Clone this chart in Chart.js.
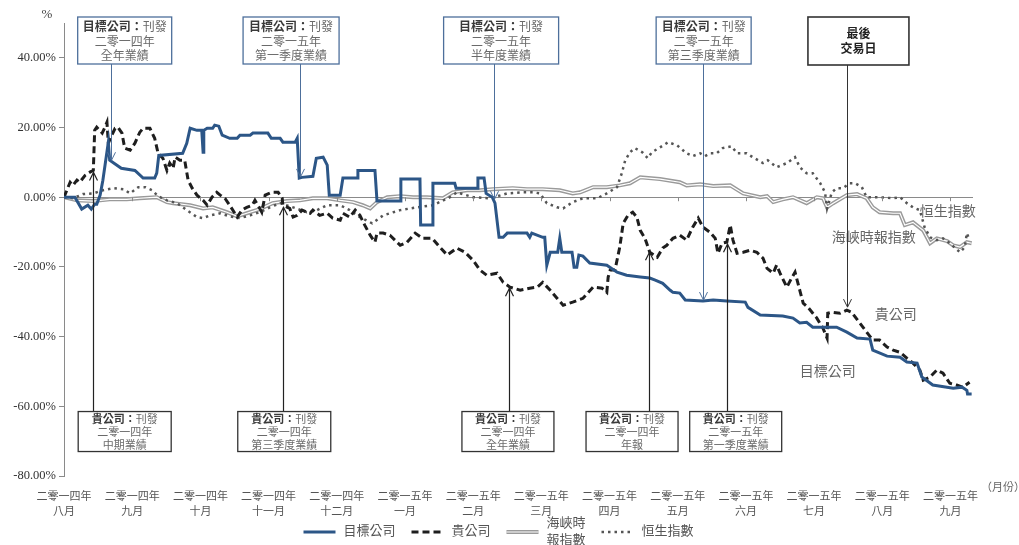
<!DOCTYPE html>
<html>
<head>
<meta charset="utf-8">
<script src="https://cdn.jsdelivr.net/npm/chart.js@4.4.1/dist/chart.umd.min.js"></script>
<style>
  body { margin: 0; background: #fff; }
  #wrap { width: 1019px; height: 545px; }
</style>
</head>
<body>
<div id="wrap"><canvas id="chart" width="1019" height="545"></canvas></div>
<script>
// x = months since Aug 2014, y = % change
const monthLabels = [
  ['二零一四年', '八月'], ['二零一四年', '九月'], ['二零一四年', '十月'], ['二零一四年', '十一月'],
  ['二零一四年', '十二月'], ['二零一五年', '一月'], ['二零一五年', '二月'], ['二零一五年', '三月'],
  ['二零一五年', '四月'], ['二零一五年', '五月'], ['二零一五年', '六月'], ['二零一五年', '七月'],
  ['二零一五年', '八月'], ['二零一五年', '九月']
];

const targetCo = [[0,0],[0.16,0],[0.26,-3.4],[0.35,-2.3],[0.40,-3.4],[0.45,-2.0],[0.48,-2.0],[0.53,0.6],[0.57,4.9],[0.65,15.8],[0.67,10.6],[0.84,8.3],[1.04,7.7],[1.16,5.5],[1.33,5.5],[1.36,6.9],[1.39,12.0],[1.74,12.6],[1.80,15.5],[1.85,19.8],[1.95,19.2],[2.02,19.2],[2.04,12.9],[2.05,19.2],[2.10,19.8],[2.18,19.8],[2.21,20.7],[2.27,20.4],[2.32,17.8],[2.43,16.9],[2.54,16.9],[2.58,17.8],[2.73,17.8],[2.77,18.4],[2.99,18.4],[3.04,16.9],[3.17,16.9],[3.21,15.8],[3.39,15.8],[3.42,16.9],[3.45,5.5],[3.49,5.7],[3.65,6.0],[3.70,11.2],[3.80,11.5],[3.86,9.2],[3.89,0.6],[4.05,0.6],[4.09,5.5],[4.30,5.5],[4.31,7.7],[4.56,7.7],[4.59,-1.1],[4.93,-1.1],[4.94,5.2],[5.22,5.2],[5.23,-8.0],[5.40,-8.0],[5.41,4.0],[5.73,4.0],[5.75,2.6],[6.06,2.6],[6.07,5.5],[6.16,5.5],[6.19,1.1],[6.28,0],[6.32,-1.7],[6.38,-11.5],[6.44,-11.5],[6.50,-10.3],[6.79,-10.3],[6.83,-11.5],[6.86,-10.3],[7.02,-11.5],[7.05,-11.5],[7.08,-19.5],[7.13,-15.8],[7.24,-15.8],[7.27,-11.8],[7.30,-15.8],[7.45,-15.8],[7.48,-20.1],[7.52,-20.1],[7.55,-16.6],[7.61,-16.9],[7.71,-18.9],[7.96,-19.5],[8.11,-21.5],[8.25,-22.4],[8.45,-22.9],[8.59,-23.2],[8.67,-23.8],[8.78,-24.7],[8.89,-26.7],[8.93,-27.3],[9.03,-27.5],[9.11,-29.5],[9.37,-29.8],[9.52,-29.5],[9.72,-29.8],[9.99,-30.1],[10.03,-31.6],[10.21,-33.8],[10.54,-34.1],[10.69,-34.7],[10.79,-36.1],[10.89,-35.9],[10.98,-37.3],[11.33,-37.3],[11.48,-38.7],[11.63,-40.4],[11.82,-40.7],[11.86,-43.9],[12.07,-45.6],[12.26,-45.9],[12.36,-47.3],[12.51,-47.6],[12.58,-51.6],[12.74,-53.9],[13.04,-54.8],[13.17,-54.5],[13.24,-55.4],[13.25,-56.5],[13.31,-56.5]];

const yourCo = [[0,0],[0.09,4.3],[0.13,3.4],[0.19,4.9],[0.23,4.3],[0.31,6.3],[0.38,7.2],[0.43,7.7],[0.45,19.2],[0.48,20.1],[0.56,18.4],[0.60,20.1],[0.63,21.5],[0.65,15.5],[0.70,17.8],[0.75,19.8],[0.79,20.1],[0.85,18.4],[0.89,14.1],[0.97,13.5],[1.04,15.5],[1.11,18.6],[1.16,19.8],[1.26,19.8],[1.33,16.9],[1.38,12.6],[1.45,11.2],[1.51,7.7],[1.55,9.8],[1.60,8.3],[1.63,11.5],[1.70,10.6],[1.77,10.6],[1.82,4.9],[1.88,2.6],[1.95,0.6],[2.04,-0.9],[2.10,-2.3],[2.17,0],[2.24,1.4],[2.29,0.6],[2.36,-0.3],[2.43,-2.3],[2.54,-5.7],[2.61,-3.7],[2.68,-2.9],[2.76,-2.3],[2.80,-0.9],[2.87,-3.2],[2.90,-4.3],[2.95,0.6],[3.05,1.4],[3.14,1.4],[3.20,-0.3],[3.21,-2.3],[3.31,-3.2],[3.36,-5.7],[3.42,-5.2],[3.49,-3.7],[3.56,-4.3],[3.61,-4.6],[3.65,-3.7],[3.75,-5.2],[3.86,-4.6],[3.94,-6.0],[4.05,-6.6],[4.09,-4.6],[4.19,-5.7],[4.27,-3.7],[4.34,-5.2],[4.41,-8.0],[4.49,-10.9],[4.56,-12.9],[4.59,-10.3],[4.68,-10.3],[4.78,-10.9],[4.93,-13.8],[5.03,-12.9],[5.15,-10.3],[5.26,-11.8],[5.40,-11.8],[5.51,-14.3],[5.62,-16.6],[5.76,-14.6],[5.88,-15.8],[6.00,-18.1],[6.10,-20.9],[6.20,-22.4],[6.35,-21.8],[6.44,-24.4],[6.54,-25.8],[6.69,-26.7],[6.83,-26.1],[6.94,-25.8],[7.02,-24.4],[7.13,-26.7],[7.23,-29.0],[7.32,-31.0],[7.46,-30.1],[7.61,-29.0],[7.76,-25.8],[7.89,-26.1],[7.96,-27.3],[7.98,-22.9],[8.01,-20.9],[8.08,-20.9],[8.15,-14.3],[8.20,-7.5],[8.27,-5.2],[8.34,-4.3],[8.40,-5.7],[8.45,-9.5],[8.52,-11.8],[8.59,-15.8],[8.70,-17.2],[8.78,-14.6],[8.84,-13.8],[8.93,-11.8],[9.03,-10.9],[9.13,-12.3],[9.22,-8.6],[9.30,-6.0],[9.37,-8.6],[9.47,-10.0],[9.55,-11.8],[9.59,-16.1],[9.65,-13.2],[9.72,-12.9],[9.77,-8.0],[9.81,-12.3],[9.87,-16.1],[9.96,-15.8],[10.06,-15.2],[10.16,-15.8],[10.25,-17.5],[10.31,-20.4],[10.40,-21.8],[10.45,-19.5],[10.50,-21.8],[10.60,-25.8],[10.67,-23.2],[10.72,-21.5],[10.79,-26.7],[10.84,-30.4],[10.91,-31.6],[11.04,-34.7],[11.13,-37.6],[11.19,-40.4],[11.20,-33.3],[11.26,-33.0],[11.38,-33.3],[11.48,-32.4],[11.55,-33.0],[11.67,-36.1],[11.77,-38.7],[11.86,-41.0],[11.96,-41.0],[12.07,-43.0],[12.16,-43.9],[12.26,-44.5],[12.36,-46.2],[12.45,-47.6],[12.55,-49.6],[12.60,-52.5],[12.70,-51.6],[12.80,-49.6],[12.89,-50.5],[12.99,-53.4],[13.09,-53.9],[13.18,-54.5],[13.28,-53.1]];

const straitsTimes = [[0,0],[0.19,-0.9],[0.43,-1.1],[0.67,-0.6],[0.92,-0.6],[1.11,-0.3],[1.36,0],[1.51,-1.4],[1.60,-1.7],[1.85,-2.3],[2.04,-3.2],[2.18,-2.9],[2.39,-4.3],[2.54,-5.5],[2.68,-4.6],[2.87,-3.4],[3.06,-1.7],[3.27,-1.1],[3.46,-0.9],[3.65,-0.3],[3.86,-0.3],[4.05,-0.9],[4.24,-1.4],[4.38,-2.3],[4.49,-3.2],[4.59,-1.4],[4.74,0],[4.93,0.3],[5.12,0],[5.32,0],[5.56,-0.3],[5.70,1.4],[5.91,2.0],[6.10,2.0],[6.29,2.3],[6.58,2.6],[6.79,2.3],[7.02,2.3],[7.27,2.0],[7.46,1.1],[7.57,1.4],[7.76,2.9],[7.96,2.9],[8.15,3.4],[8.30,4.0],[8.45,5.7],[8.74,5.2],[9.03,4.3],[9.13,3.4],[9.33,3.7],[9.52,3.2],[9.77,3.4],[9.96,1.1],[10.21,0],[10.31,0.3],[10.40,-1.4],[10.54,-0.6],[10.69,0],[10.89,-1.7],[11.04,0],[11.13,-0.3],[11.19,-2.9],[11.28,-1.7],[11.48,0.6],[11.63,0.9],[11.77,-0.3],[11.86,-2.9],[11.96,-4.3],[12.16,-4.6],[12.26,-4.6],[12.33,-8.0],[12.45,-7.2],[12.60,-9.5],[12.70,-13.2],[12.80,-11.8],[12.95,-12.6],[13.04,-13.8],[13.14,-14.3],[13.24,-12.9],[13.31,-13.2]];

const hangSeng = [[0,0],[0.13,-0.3],[0.28,0.9],[0.43,1.1],[0.57,2.0],[0.72,2.6],[0.87,2.3],[0.97,1.1],[1.09,2.9],[1.19,2.9],[1.29,2.0],[1.38,0.3],[1.51,-0.9],[1.66,-1.7],[1.80,-3.7],[1.95,-5.7],[2.04,-6.0],[2.14,-5.2],[2.29,-4.6],[2.43,-5.5],[2.58,-6.0],[2.73,-5.2],[2.87,-4.3],[3.02,-2.9],[3.17,-1.7],[3.36,-2.9],[3.56,-4.3],[3.71,-3.7],[3.86,-2.3],[4.05,-2.3],[4.19,-3.7],[4.34,-5.7],[4.52,-7.5],[4.68,-5.2],[4.93,-3.7],[5.18,-2.9],[5.41,-2.3],[5.66,0],[5.76,1.4],[6.00,0],[6.25,-0.3],[6.50,1.1],[6.73,1.4],[6.88,1.4],[6.98,1.1],[7.08,-1.7],[7.23,-2.9],[7.32,-3.2],[7.46,-1.4],[7.61,-0.3],[7.82,-0.3],[7.96,1.1],[8.11,2.9],[8.18,6.9],[8.23,10.6],[8.30,12.9],[8.37,14.1],[8.48,12.9],[8.56,11.2],[8.62,12.9],[8.74,14.3],[8.86,15.8],[8.99,14.9],[9.13,12.6],[9.22,11.8],[9.33,12.6],[9.40,11.8],[9.47,12.6],[9.57,12.6],[9.66,14.1],[9.79,14.6],[9.87,12.6],[10.01,12.6],[10.10,11.5],[10.25,9.8],[10.32,10.6],[10.45,8.6],[10.60,9.8],[10.72,11.5],[10.79,8.6],[10.89,6.9],[10.98,6.9],[11.09,4.0],[11.16,1.4],[11.19,-3.2],[11.26,1.4],[11.33,2.6],[11.42,2.6],[11.52,4.0],[11.60,4.0],[11.70,2.9],[11.77,0],[11.96,0],[12.16,-0.3],[12.26,0],[12.36,-1.7],[12.45,-2.9],[12.55,-3.7],[12.62,-8.6],[12.70,-11.5],[12.80,-12.3],[12.89,-11.8],[12.99,-13.2],[13.14,-15.8],[13.21,-14.3],[13.24,-10.3],[13.28,-12.3]];

const seriesNames = ['目標公司', '貴公司', ['海峽時', '報指數'], '恒生指數'];

// event notes: box centre (month), arrow x (month), which series the arrow points at
const topNotes = [
  { head: '目標公司：', rest: '刊發', sub: ['二零一四年', '全年業績'], boxAt: 0.89, boxW: 94, arrowAt: 0.69, series: targetCo },
  { head: '目標公司：', rest: '刊發', sub: ['二零一五年', '第一季度業績'], boxAt: 3.33, boxW: 96, arrowAt: 3.46, series: targetCo },
  { head: '目標公司：', rest: '刊發', sub: ['二零一五年', '半年度業績'], boxAt: 6.41, boxW: 115, arrowAt: 6.30, series: targetCo },
  { head: '目標公司：', rest: '刊發', sub: ['二零一五年', '第三季度業績'], boxAt: 9.38, boxW: 95, arrowAt: 9.37, series: targetCo }
];
const lastDayNote = { lines: ['最後', '交易日'], boxAt: 11.65, boxW: 101, arrowAt: 11.48, series: yourCo };
const bottomNotes = [
  { head: '貴公司：', rest: '刊發', sub: ['二零一四年', '中期業績'], boxAt: 0.89, boxW: 93, arrowAt: 0.43, series: yourCo },
  { head: '貴公司：', rest: '刊發', sub: ['二零一四年', '第三季度業績'], boxAt: 3.23, boxW: 93, arrowAt: 3.21, series: yourCo },
  { head: '貴公司：', rest: '刊發', sub: ['二零一四年', '全年業績'], boxAt: 6.51, boxW: 92, arrowAt: 6.52, series: yourCo },
  { head: '貴公司：', rest: '刊發', sub: ['二零一四年', '年報'], boxAt: 8.33, boxW: 92, arrowAt: 8.58, series: yourCo },
  { head: '貴公司：', rest: '刊發', sub: ['二零一五年', '第一季度業績'], boxAt: 9.85, boxW: 92, arrowAt: 9.72, series: yourCo }
];
const lineTags = [
  { text: '恒生指數', x: 12.55, y: -4.3 },
  { text: '海峽時報指數', x: 11.26, y: -11.8 },
  { text: '貴公司', x: 11.89, y: -33.8 },
  { text: '目標公司', x: 10.79, y: -50.2 }
];

const FONT = "'Liberation Serif', 'Times New Roman', 'Noto Sans CJK TC', serif";
const BLUE = '#2C5687';

function toXY(pts) { return pts.map(p => ({ x: p[0], y: p[1] })); }

function valueAt(pts, x) {
  for (let i = 1; i < pts.length; i++) {
    if (pts[i][0] >= x) {
      const a = pts[i - 1], b = pts[i];
      return a[1] + (b[1] - a[1]) * (x - a[0]) / ((b[0] - a[0]) || 1);
    }
  }
  return pts[pts.length - 1][1];
}

function arrowHead(ctx, x, y, dir) {
  // dir = 1 pointing down, -1 pointing up
  ctx.beginPath();
  ctx.moveTo(x - 4, y - dir * 8);
  ctx.lineTo(x, y);
  ctx.lineTo(x + 4, y - dir * 8);
  ctx.stroke();
}

function drawHeadLine(ctx, cx, y, head, rest, size) {
  ctx.font = 'bold ' + size + 'px ' + FONT;
  const w1 = ctx.measureText(head).width;
  ctx.font = size + 'px ' + FONT;
  const w2 = ctx.measureText(rest).width;
  let x = cx - (w1 + w2) / 2;
  ctx.textAlign = 'left';
  ctx.font = 'bold ' + size + 'px ' + FONT;
  ctx.fillStyle = '#3a3a3a';
  ctx.fillText(head, x, y);
  ctx.font = size + 'px ' + FONT;
  ctx.fillStyle = '#6a6a6a';
  ctx.fillText(rest, x + w1, y);
}

const notesPlugin = {
  id: 'notes',
  afterDatasetsDraw(chart) {
    const ctx = chart.ctx, xs = chart.scales.x, ys = chart.scales.y, area = chart.chartArea;
    ctx.save();
    ctx.textBaseline = 'middle';

    // small tick marks on the zero line
    const y0 = ys.getPixelForValue(0);
    ctx.strokeStyle = '#8a8a8a';
    ctx.lineWidth = 1;
    for (let i = 1; i < monthLabels.length; i++) {
      const px = Math.round(xs.getPixelForValue(i)) + 0.5;
      ctx.beginPath(); ctx.moveTo(px, y0); ctx.lineTo(px, y0 + 4); ctx.stroke();
    }

    // line tags
    ctx.font = '14px ' + FONT;
    ctx.fillStyle = '#666';
    ctx.textAlign = 'left';
    lineTags.forEach(t => ctx.fillText(t.text, xs.getPixelForValue(t.x), ys.getPixelForValue(t.y)));

    // top notes
    const topY = area.top - 6, topH = 47;
    topNotes.forEach(n => {
      const cx = xs.getPixelForValue(n.boxAt), ax = Math.round(xs.getPixelForValue(n.arrowAt)) + 0.5;
      const tip = ys.getPixelForValue(valueAt(n.series, n.arrowAt)) - 1;
      ctx.strokeStyle = '#4D6F9B';
      ctx.lineWidth = 1;
      ctx.beginPath(); ctx.moveTo(ax, topY + topH); ctx.lineTo(ax, tip); ctx.stroke();
      arrowHead(ctx, ax, tip, 1);
      ctx.fillStyle = '#fff';
      ctx.fillRect(cx - n.boxW / 2, topY, n.boxW, topH);
      ctx.lineWidth = 1.3;
      ctx.strokeRect(cx - n.boxW / 2, topY, n.boxW, topH);
      drawHeadLine(ctx, cx, topY + 11, n.head, n.rest, 12);
      ctx.font = '12px ' + FONT;
      ctx.fillStyle = '#6a6a6a';
      ctx.textAlign = 'center';
      ctx.fillText(n.sub[0], cx, topY + 26);
      ctx.fillText(n.sub[1], cx, topY + 40);
    });

    // last trading day
    {
      const n = lastDayNote;
      const cx = xs.getPixelForValue(n.boxAt), ax = Math.round(xs.getPixelForValue(n.arrowAt)) + 0.5;
      const tip = ys.getPixelForValue(valueAt(n.series, n.arrowAt)) - 3;
      ctx.strokeStyle = '#333';
      ctx.lineWidth = 1;
      ctx.beginPath(); ctx.moveTo(ax, topY + 48); ctx.lineTo(ax, tip); ctx.stroke();
      arrowHead(ctx, ax, tip, 1);
      ctx.fillStyle = '#fff';
      ctx.fillRect(cx - n.boxW / 2, topY, n.boxW, 48);
      ctx.lineWidth = 1.6;
      ctx.strokeRect(cx - n.boxW / 2, topY, n.boxW, 48);
      ctx.font = 'bold 12px ' + FONT;
      ctx.fillStyle = '#222';
      ctx.textAlign = 'center';
      ctx.fillText(n.lines[0], cx, topY + 18);
      ctx.fillText(n.lines[1], cx, topY + 33);
    }

    // bottom notes
    const botY = ys.getPixelForValue(-61.5), botH = 40;
    bottomNotes.forEach(n => {
      const cx = xs.getPixelForValue(n.boxAt), ax = Math.round(xs.getPixelForValue(n.arrowAt)) + 0.5;
      const tip = ys.getPixelForValue(valueAt(n.series, n.arrowAt)) + 2;
      ctx.strokeStyle = '#222';
      ctx.lineWidth = 1.2;
      ctx.beginPath(); ctx.moveTo(ax, botY); ctx.lineTo(ax, tip); ctx.stroke();
      arrowHead(ctx, ax, tip, -1);
      ctx.fillStyle = '#fff';
      ctx.fillRect(cx - n.boxW / 2, botY, n.boxW, botH);
      ctx.strokeStyle = '#333';
      ctx.lineWidth = 1.3;
      ctx.strokeRect(cx - n.boxW / 2, botY, n.boxW, botH);
      drawHeadLine(ctx, cx, botY + 9, n.head, n.rest, 11);
      ctx.font = '11px ' + FONT;
      ctx.fillStyle = '#6a6a6a';
      ctx.textAlign = 'center';
      ctx.fillText(n.sub[0], cx, botY + 22);
      ctx.fillText(n.sub[1], cx, botY + 35);
    });
    ctx.restore();
  },
  afterDraw(chart) {
    const ctx = chart.ctx, area = chart.chartArea;
    ctx.save();
    ctx.textBaseline = 'middle';
    // axis captions
    ctx.font = '13px ' + FONT;
    ctx.fillStyle = '#444';
    ctx.textAlign = 'center';
    ctx.fillText('%', area.left - 17, area.top - 8);
    ctx.font = '11px ' + FONT;
    ctx.fillStyle = '#666';
    ctx.fillText('（月份）', area.right + 30, area.bottom + 12);

    // legend
    const styles = chart.data.datasets;
    const sample = 32, gap = 8, itemGap = 16, ly = 532;
    ctx.font = '13px ' + FONT;
    const widths = seriesNames.map(n => Array.isArray(n) ? Math.max(...n.map(s => ctx.measureText(s).width)) : ctx.measureText(n).width);
    const total = widths.reduce((a, w) => a + sample + gap + w, 0) + itemGap * (seriesNames.length - 1);
    let x = (area.left + area.right) / 2 - 20 - total / 2;
    const drawSample = (ds, x0) => {
      ctx.strokeStyle = ds.borderColor;
      ctx.lineWidth = ds.borderWidth;
      ctx.setLineDash(ds.borderDash || []);
      ctx.beginPath(); ctx.moveTo(x0, ly); ctx.lineTo(x0 + sample, ly); ctx.stroke();
      ctx.setLineDash([]);
    };
    seriesNames.forEach((name, i) => {
      if (i === 2) { drawSample(styles[4], x); drawSample(styles[3], x); }
      else drawSample(styles[i === 3 ? 2 : i], x);
      ctx.fillStyle = '#555';
      ctx.textAlign = 'left';
      if (Array.isArray(name)) {
        ctx.fillText(name[0], x + sample + gap, ly - 8);
        ctx.fillText(name[1], x + sample + gap, ly + 9);
      } else {
        ctx.fillText(name, x + sample + gap, ly);
      }
      x += sample + gap + widths[i] + itemGap;
    });
    ctx.restore();
  }
};

new Chart(document.getElementById('chart'), {
  type: 'line',
  data: {
    datasets: [
      { label: '目標公司', data: toXY(targetCo), borderColor: BLUE, borderWidth: 3 },
      { label: '貴公司', data: toXY(yourCo), borderColor: '#1E1E1E', borderWidth: 3, borderDash: [7, 4] },
      { label: '恒生指數', data: toXY(hangSeng), borderColor: '#555', borderWidth: 2.5, borderDash: [2.5, 4] },
      { label: '海峽時報指數', data: toXY(straitsTimes), borderColor: '#fff', borderWidth: 1.2 },
      { label: '海峽時報指數 outline', data: toXY(straitsTimes), borderColor: '#9A9A9A', borderWidth: 4 }
    ]
  },
  options: {
    responsive: false,
    animation: false,
    layout: { padding: { top: 23, right: 46, left: 0, bottom: 0 } },
    elements: { point: { radius: 0 }, line: { tension: 0, fill: false } },
    plugins: { legend: { display: false }, tooltip: { enabled: false } },
    scales: {
      x: {
        type: 'linear',
        min: 0,
        max: 13.33,
        afterBuildTicks: s => { s.ticks = monthLabels.map((_, i) => ({ value: i })); },
        afterFit: s => { s.height = 69; },
        ticks: {
          autoSkip: false,
          maxRotation: 0,
          padding: 6,
          color: '#555',
          font: { family: FONT, size: 11, lineHeight: 1.35 },
          callback: v => monthLabels[v]
        },
        grid: { display: false },
        border: { display: false }
      },
      y: {
        min: -80,
        max: 50,
        afterBuildTicks: s => { s.ticks = s.ticks.filter(t => t.value % 20 === 0); },
        afterFit: s => { s.width = 64; },
        ticks: {
          stepSize: 20,
          padding: 3,
          color: '#333',
          font: { family: FONT, size: 12.5 },
          callback: v => v.toFixed(2) + '%'
        },
        grid: {
          color: c => (c.tick && c.tick.value === 0) ? '#8a8a8a' : 'rgba(0,0,0,0)',
          tickColor: '#8a8a8a',
          tickLength: 5
        },
        border: { display: true, color: '#8a8a8a' }
      }
    }
  },
  plugins: [notesPlugin]
});
</script>
</body>
</html>
